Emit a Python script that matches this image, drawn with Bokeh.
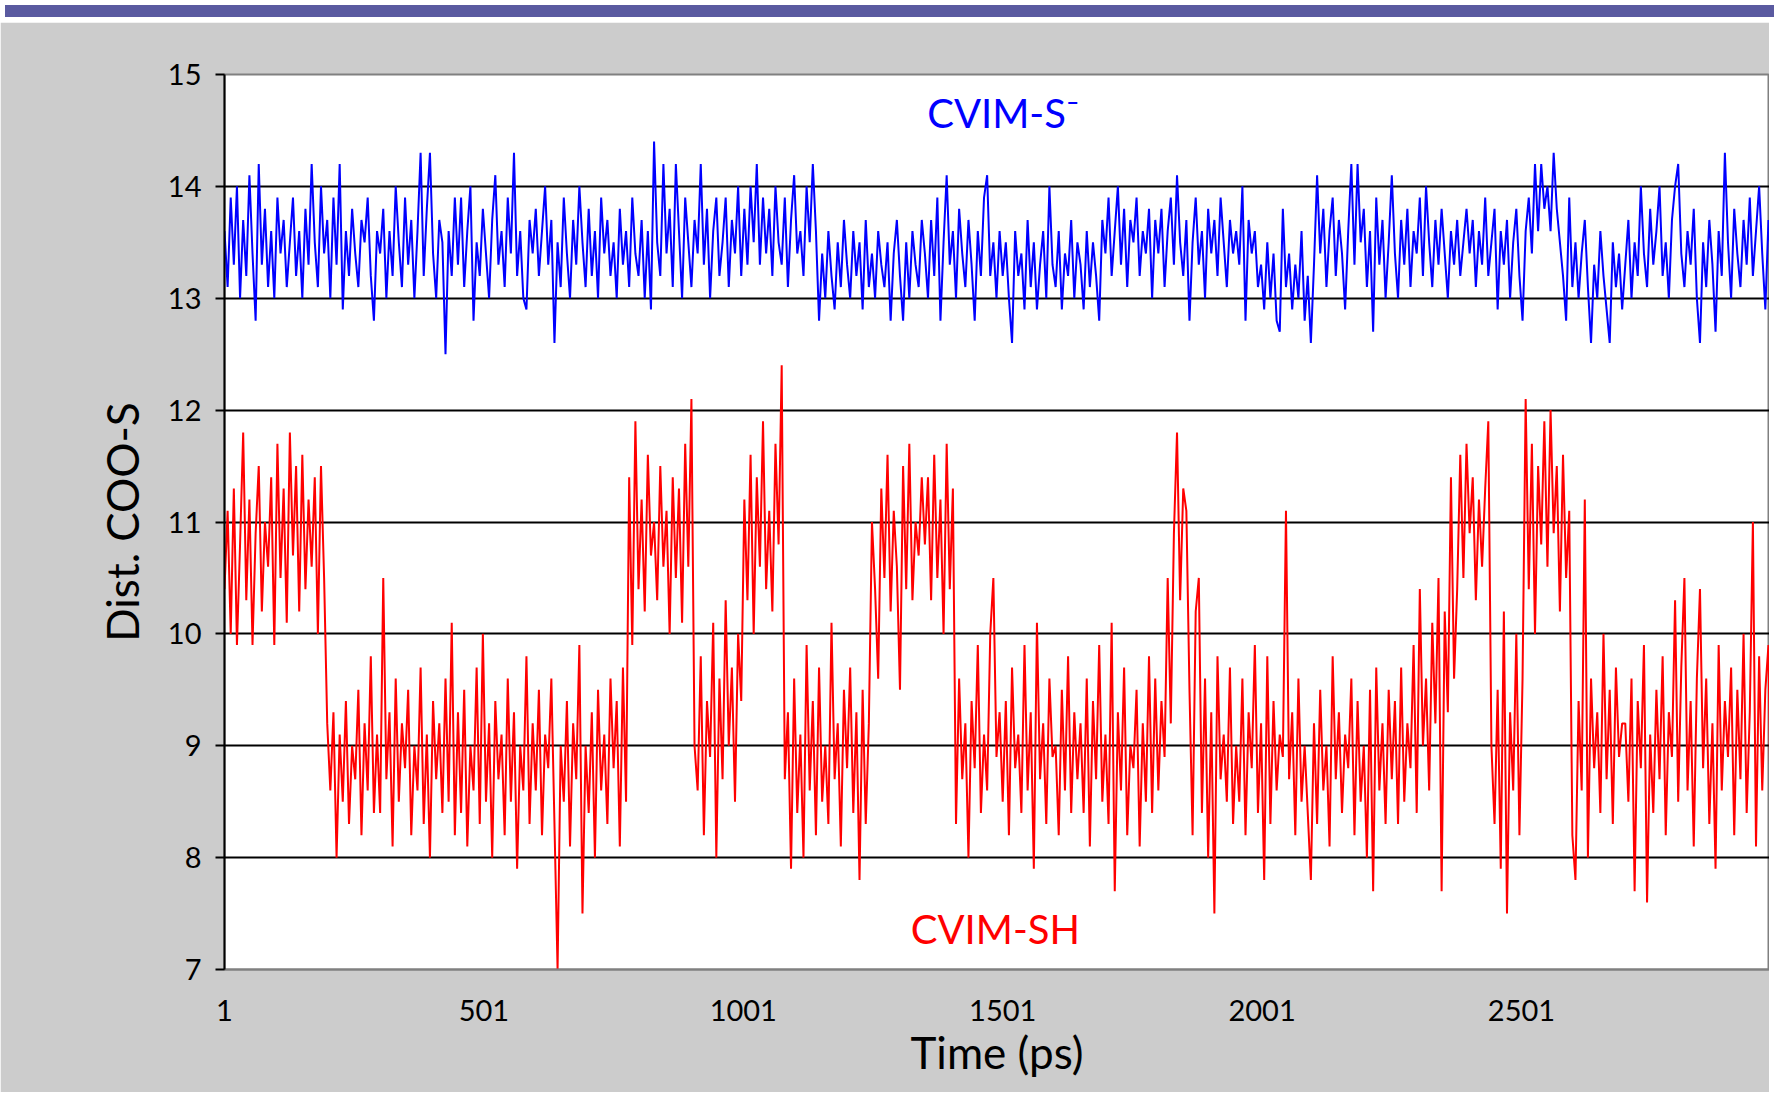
from bokeh.plotting import figure
from bokeh.models import Range1d, FixedTicker, Div
from bokeh.layouts import column
from bokeh.core.properties import value
from bokeh.embed import file_html
from bokeh.resources import INLINE

time_ps = list(range(1, 3000, 6))

cvim_sh = [
    10.4, 11.1, 10.0, 11.3, 9.9, 10.8, 11.8, 10.3, 11.2, 9.9, 10.9, 11.5, 10.2, 11.0, 10.6, 11.4, 9.9, 11.7, 10.5, 11.3, 10.1, 11.8, 10.7, 11.5, 10.2,
    11.6, 10.4, 11.2, 10.6, 11.4, 10.0, 11.5, 10.5, 9.2, 8.6, 9.3, 8.0, 9.1, 8.5, 9.4, 8.3, 9.0, 8.7, 9.5, 8.2, 9.2, 8.6, 9.8, 8.4, 9.1,
    8.4, 10.5, 8.7, 9.3, 8.1, 9.6, 8.5, 9.2, 8.8, 9.5, 8.2, 9.0, 8.6, 9.7, 8.3, 9.1, 8.0, 9.4, 8.7, 9.2, 8.4, 9.6, 8.5, 10.1, 8.2,
    9.3, 8.4, 9.5, 8.1, 9.0, 8.6, 9.7, 8.3, 10.0, 8.5, 9.2, 8.0, 9.4, 8.7, 9.1, 8.2, 9.6, 8.5, 9.3, 7.9, 9.0, 8.6, 9.8, 8.3, 9.2,
    8.6, 9.5, 8.2, 9.1, 8.8, 9.6, 8.3, 7.0, 9.0, 8.5, 9.4, 8.1, 9.2, 8.7, 9.9, 7.5, 9.0, 8.4, 9.3, 8.0, 9.5, 8.6, 9.1, 8.3, 9.6,
    8.8, 9.4, 8.1, 9.7, 8.5, 11.4, 9.9, 11.9, 10.4, 11.2, 10.2, 11.6, 10.7, 11.0, 10.3, 11.5, 10.6, 11.1, 10.0, 11.4, 10.5, 11.3, 10.1, 11.7, 10.6,
    12.1, 9.0, 8.6, 9.8, 8.2, 9.4, 8.9, 10.1, 8.0, 9.6, 8.7, 10.3, 9.0, 9.7, 8.5, 10.0, 9.4, 11.2, 10.3, 11.6, 10.0, 11.4, 10.6, 11.9, 10.4,
    11.1, 10.2, 11.7, 10.8, 12.4, 8.7, 9.3, 7.9, 9.6, 8.4, 9.1, 8.0, 9.9, 8.6, 9.4, 8.2, 9.7, 8.5, 9.0, 8.3, 10.1, 8.7, 9.2, 8.1, 9.5,
    8.8, 9.7, 8.4, 9.3, 7.8, 9.5, 8.3, 9.2, 11.0, 10.4, 9.6, 11.3, 10.5, 11.6, 10.2, 11.1, 10.6, 9.5, 11.5, 10.4, 11.7, 10.3, 11.0, 10.7, 11.4,
    10.8, 11.4, 10.3, 11.6, 10.5, 11.2, 10.0, 11.7, 10.4, 11.3, 8.3, 9.6, 8.7, 9.2, 8.0, 9.4, 8.8, 9.9, 8.4, 9.1, 8.6, 10.0, 10.5, 8.9, 9.3,
    8.5, 9.4, 8.2, 9.7, 8.8, 9.1, 8.4, 9.9, 8.6, 9.3, 7.9, 10.1, 8.7, 9.2, 8.3, 9.6, 8.9, 9.0, 8.2, 9.5, 8.6, 9.8, 8.4, 9.3, 8.7,
    9.2, 8.4, 9.6, 8.1, 9.4, 8.7, 9.9, 8.5, 9.1, 8.3, 10.1, 7.7, 9.3, 8.6, 9.7, 8.2, 9.0, 8.8, 9.5, 8.1, 9.2, 8.5, 9.8, 8.4, 9.6,
    8.6, 9.4, 8.9, 10.5, 9.2, 10.9, 11.8, 10.3, 11.3, 11.1, 9.5, 8.2, 10.2, 10.5, 8.4, 9.6, 8.0, 9.3, 7.5, 9.8, 8.7, 9.1, 8.5, 9.7, 8.3,
    9.0, 8.5, 9.6, 8.2, 9.3, 8.8, 9.9, 8.4, 9.2, 7.8, 9.8, 8.3, 9.4, 8.6, 9.1, 8.9, 11.1, 8.7, 9.3, 8.2, 9.6, 8.5, 9.0, 8.4, 7.8,
    9.2, 8.3, 9.5, 8.6, 9.0, 8.1, 9.8, 8.7, 9.3, 8.4, 9.1, 8.8, 9.6, 8.2, 9.4, 8.5, 9.0, 8.0, 9.5, 7.7, 9.7, 8.6, 9.2, 8.3, 9.5,
    8.7, 9.4, 8.3, 9.7, 8.5, 9.2, 8.8, 9.9, 8.4, 10.4, 9.0, 9.6, 8.6, 10.1, 9.2, 10.5, 7.7, 10.2, 9.3, 11.4, 9.6, 10.4, 11.6, 10.5, 11.7,
    10.9, 11.4, 10.3, 11.2, 10.6, 11.3, 11.9, 9.0, 8.3, 9.5, 7.9, 10.2, 7.5, 9.3, 8.6, 10.0, 8.2, 9.6, 12.1, 10.4, 11.7, 10.0, 11.5, 10.8, 11.9,
    10.6, 12.0, 10.9, 11.5, 10.2, 11.6, 10.5, 11.1, 8.2, 7.8, 9.4, 8.6, 11.2, 8.0, 9.6, 8.8, 9.3, 8.4, 10.0, 8.7, 9.5, 8.3, 9.7, 8.9, 9.2,
    9.2, 8.5, 9.6, 7.7, 9.4, 8.8, 9.9, 7.6, 9.1, 8.4, 9.5, 8.7, 9.8, 8.2, 9.3, 8.9, 10.3, 8.5, 9.7, 10.5, 8.6, 9.4, 8.1, 9.6, 10.4,
    8.8, 9.6, 8.3, 9.2, 7.9, 9.9, 8.6, 9.4, 8.9, 9.7, 8.2, 9.5, 8.7, 10.0, 8.4, 9.3, 11.0, 8.1, 9.8, 8.6, 9.5, 9.9, 7.7, 9.1, 8.5,
]

cvim_s = [
    13.6, 13.1, 13.9, 13.3, 14.0, 13.0, 13.7, 13.2, 14.1, 13.4, 12.8, 14.2, 13.3, 13.8, 13.1, 13.6, 13.0, 13.9, 13.4, 13.7, 13.1, 13.5, 13.9, 13.2, 13.6,
    13.0, 13.8, 13.3, 14.2, 13.5, 13.1, 14.0, 13.4, 13.7, 13.0, 13.9, 13.3, 14.2, 12.9, 13.6, 13.2, 13.8, 13.4, 13.1, 13.7, 13.5, 13.9, 13.2, 12.8, 13.6,
    13.4, 13.8, 13.0, 13.6, 13.2, 14.0, 13.5, 13.1, 13.9, 13.3, 13.7, 13.0, 13.6, 14.3, 13.2, 13.8, 14.3, 13.4, 13.0, 13.7, 13.5, 12.5, 13.6, 13.2, 13.9,
    13.3, 13.9, 13.1, 13.6, 14.0, 12.8, 13.5, 13.2, 13.8, 13.4, 13.0, 13.7, 14.1, 13.3, 13.6, 13.1, 13.9, 13.4, 14.3, 13.2, 13.6, 13.0, 12.9, 13.7, 13.4,
    13.8, 13.2, 13.6, 14.0, 13.3, 13.7, 12.6, 13.5, 13.1, 13.9, 13.4, 13.0, 13.7, 13.3, 14.0, 13.5, 13.1, 13.8, 13.2, 13.6, 13.0, 13.9, 13.4, 13.7, 13.2,
    13.5, 13.0, 13.8, 13.3, 13.6, 13.1, 13.9, 13.4, 13.2, 13.7, 13.0, 13.6, 12.9, 14.4, 13.5, 13.2, 14.2, 13.4, 13.8, 13.1, 14.2, 13.6, 13.0, 13.9, 13.5,
    13.1, 13.7, 13.4, 14.2, 13.3, 13.8, 13.0, 13.6, 13.9, 13.2, 13.5, 13.9, 13.1, 13.7, 13.4, 14.0, 13.2, 13.8, 13.3, 14.0, 13.5, 14.2, 13.3, 13.9, 13.4,
    13.8, 13.2, 14.0, 13.5, 13.3, 13.9, 13.1, 13.7, 14.1, 13.4, 13.6, 13.2, 14.0, 13.5, 14.2, 13.6, 12.8, 13.4, 13.0, 13.6, 13.2, 12.9, 13.5, 13.1, 13.7,
    13.3, 13.0, 13.6, 13.2, 13.5, 12.9, 13.7, 13.1, 13.4, 13.0, 13.6, 13.3, 13.1, 13.5, 12.8, 13.4, 13.7, 13.2, 12.8, 13.5, 13.0, 13.6, 13.3, 13.1, 13.7,
    13.4, 13.0, 13.7, 13.2, 13.9, 12.8, 13.5, 14.1, 13.3, 13.6, 13.0, 13.8, 13.4, 13.1, 13.7, 13.3, 12.8, 13.6, 13.2, 13.9, 14.1, 13.2, 13.5, 13.0, 13.6,
    13.2, 13.5, 13.0, 12.6, 13.6, 13.2, 13.4, 12.9, 13.7, 13.1, 13.5, 12.9, 13.3, 13.6, 13.0, 14.0, 13.3, 13.1, 13.6, 12.9, 13.4, 13.2, 13.7, 13.0, 13.5,
    13.3, 12.9, 13.6, 13.1, 13.5, 13.2, 12.8, 13.7, 13.4, 13.9, 13.2, 13.6, 14.0, 13.3, 13.8, 13.1, 13.7, 13.5, 13.9, 13.2, 13.6, 13.4, 13.8, 13.0, 13.7,
    13.4, 13.8, 13.1, 13.6, 13.9, 13.3, 14.1, 13.5, 13.2, 13.7, 12.8, 13.5, 13.9, 13.3, 13.6, 13.0, 13.8, 13.4, 13.7, 13.2, 13.9, 13.5, 13.1, 13.7, 13.4,
    13.6, 13.3, 14.0, 12.8, 13.7, 13.4, 13.6, 13.1, 13.3, 12.9, 13.5, 13.0, 13.4, 12.8, 12.7, 13.8, 13.1, 13.4, 12.9, 13.3, 13.0, 13.6, 12.8, 13.2, 12.6,
    13.3, 14.1, 13.4, 13.8, 13.1, 13.6, 13.9, 13.2, 13.7, 13.4, 12.9, 13.6, 14.2, 13.3, 14.2, 13.5, 13.8, 13.1, 13.6, 12.7, 13.9, 13.3, 13.7, 13.0, 13.5,
    14.1, 13.4, 13.0, 13.7, 13.3, 13.8, 13.1, 13.6, 13.4, 13.9, 13.2, 14.0, 13.5, 13.1, 13.7, 13.3, 13.8, 13.4, 13.0, 13.6, 13.3, 13.7, 13.2, 13.5, 13.8,
    13.4, 13.7, 13.1, 13.6, 13.3, 13.9, 13.2, 13.5, 13.8, 12.9, 13.6, 13.3, 13.7, 13.0, 13.5, 13.8, 13.2, 12.8, 13.6, 13.9, 13.4, 14.2, 13.6, 14.2, 13.8,
    14.0, 13.6, 14.3, 13.8, 13.5, 13.2, 12.8, 13.9, 13.1, 13.5, 13.0, 13.4, 13.7, 13.1, 12.6, 13.3, 13.0, 13.6, 13.2, 12.9, 12.6, 13.5, 13.1, 13.4, 12.9,
    13.3, 13.7, 13.0, 13.5, 13.2, 14.0, 13.4, 13.1, 13.8, 13.3, 13.6, 14.0, 13.2, 13.5, 13.0, 13.7, 14.0, 14.2, 13.4, 13.1, 13.6, 13.3, 13.8, 13.0, 12.6,
    13.5, 13.1, 13.7, 13.3, 12.7, 13.6, 13.2, 14.3, 13.5, 13.0, 13.8, 13.4, 13.1, 13.7, 13.3, 13.9, 13.2, 13.6, 14.0, 13.4, 12.9, 13.7, 13.3, 13.8, 13.5,
]

y_ticks = [7, 8, 9, 10, 11, 12, 13, 14, 15]
grid_values = [8, 9, 10, 11, 12, 13, 14]
x_ticks = [1, 501, 1001, 1501, 2001, 2501]

label_text = ["CVIM-S\u207b", "CVIM-SH"]
label_x = [1502, 1487]
label_y = [14.66, 7.36]
label_colors = ["#0000FF", "#FF0000"]

x_title = "Time (ps)"
y_title = "Dist. COO-S"

FONT = "Lato"

W = 1769
H = 1070

p = figure(width=W, height=H, output_backend="svg", toolbar_location=None,
           x_range=Range1d(1, 2979), y_range=Range1d(7, 15))
p.min_border_left = 224
p.min_border_right = 0
p.min_border_top = 52
p.min_border_bottom = 123
p.border_fill_color = "#CCCCCC"
p.background_fill_color = "white"
p.outline_line_color = "#808080"
p.outline_line_width = 2

p.line(time_ps, cvim_sh, line_color="#FF0000", line_width=2)
p.line(time_ps, cvim_s, line_color="#0000FF", line_width=2)

p.text(x=label_x, y=label_y, text=label_text, text_color=label_colors,
       text_align="center", text_baseline="middle",
       text_font=value(FONT), text_font_size="40px")

# grid
p.xgrid.visible = False
p.ygrid.ticker = FixedTicker(ticks=grid_values)
p.ygrid.grid_line_color = "black"
p.ygrid.grid_line_width = 2

# y axis
p.yaxis.ticker = FixedTicker(ticks=y_ticks)
p.yaxis.axis_line_color = "black"
p.yaxis.axis_line_width = 2
p.yaxis.major_tick_line_color = "black"
p.yaxis.major_tick_line_width = 2
p.yaxis.major_tick_out = 9
p.yaxis.major_tick_in = 0
p.yaxis.minor_tick_line_color = None
p.yaxis.major_label_text_font = FONT
p.yaxis.major_label_text_font_size = "29px"
p.yaxis.major_label_text_color = "black"
p.yaxis.major_label_standoff = 14
p.yaxis.axis_label = y_title
p.yaxis.axis_label_text_font = FONT
p.yaxis.axis_label_text_font_size = "44px"
p.yaxis.axis_label_text_font_style = "normal"
p.yaxis.axis_label_text_color = "black"
p.yaxis.axis_label_standoff = 17

# x axis
p.xaxis.ticker = FixedTicker(ticks=x_ticks)
p.xaxis.axis_line_color = "#808080"
p.xaxis.axis_line_width = 2
p.xaxis.major_tick_line_color = None
p.xaxis.major_tick_out = 0
p.xaxis.major_tick_in = 0
p.xaxis.minor_tick_line_color = None
p.xaxis.major_label_text_font = FONT
p.xaxis.major_label_text_font_size = "29px"
p.xaxis.major_label_text_color = "black"
p.xaxis.major_label_standoff = 30
p.xaxis.axis_label = x_title
p.xaxis.axis_label_text_font = FONT
p.xaxis.axis_label_text_font_size = "44px"
p.xaxis.axis_label_text_font_style = "normal"
p.xaxis.axis_label_text_color = "black"
p.xaxis.axis_label_standoff = 2

band = Div(text="", width=W, height=12, styles={"background-color": "#5A5AA0"})
layout = column(band, p, spacing=0)

open("out.html", "w").write(file_html(layout, INLINE))
